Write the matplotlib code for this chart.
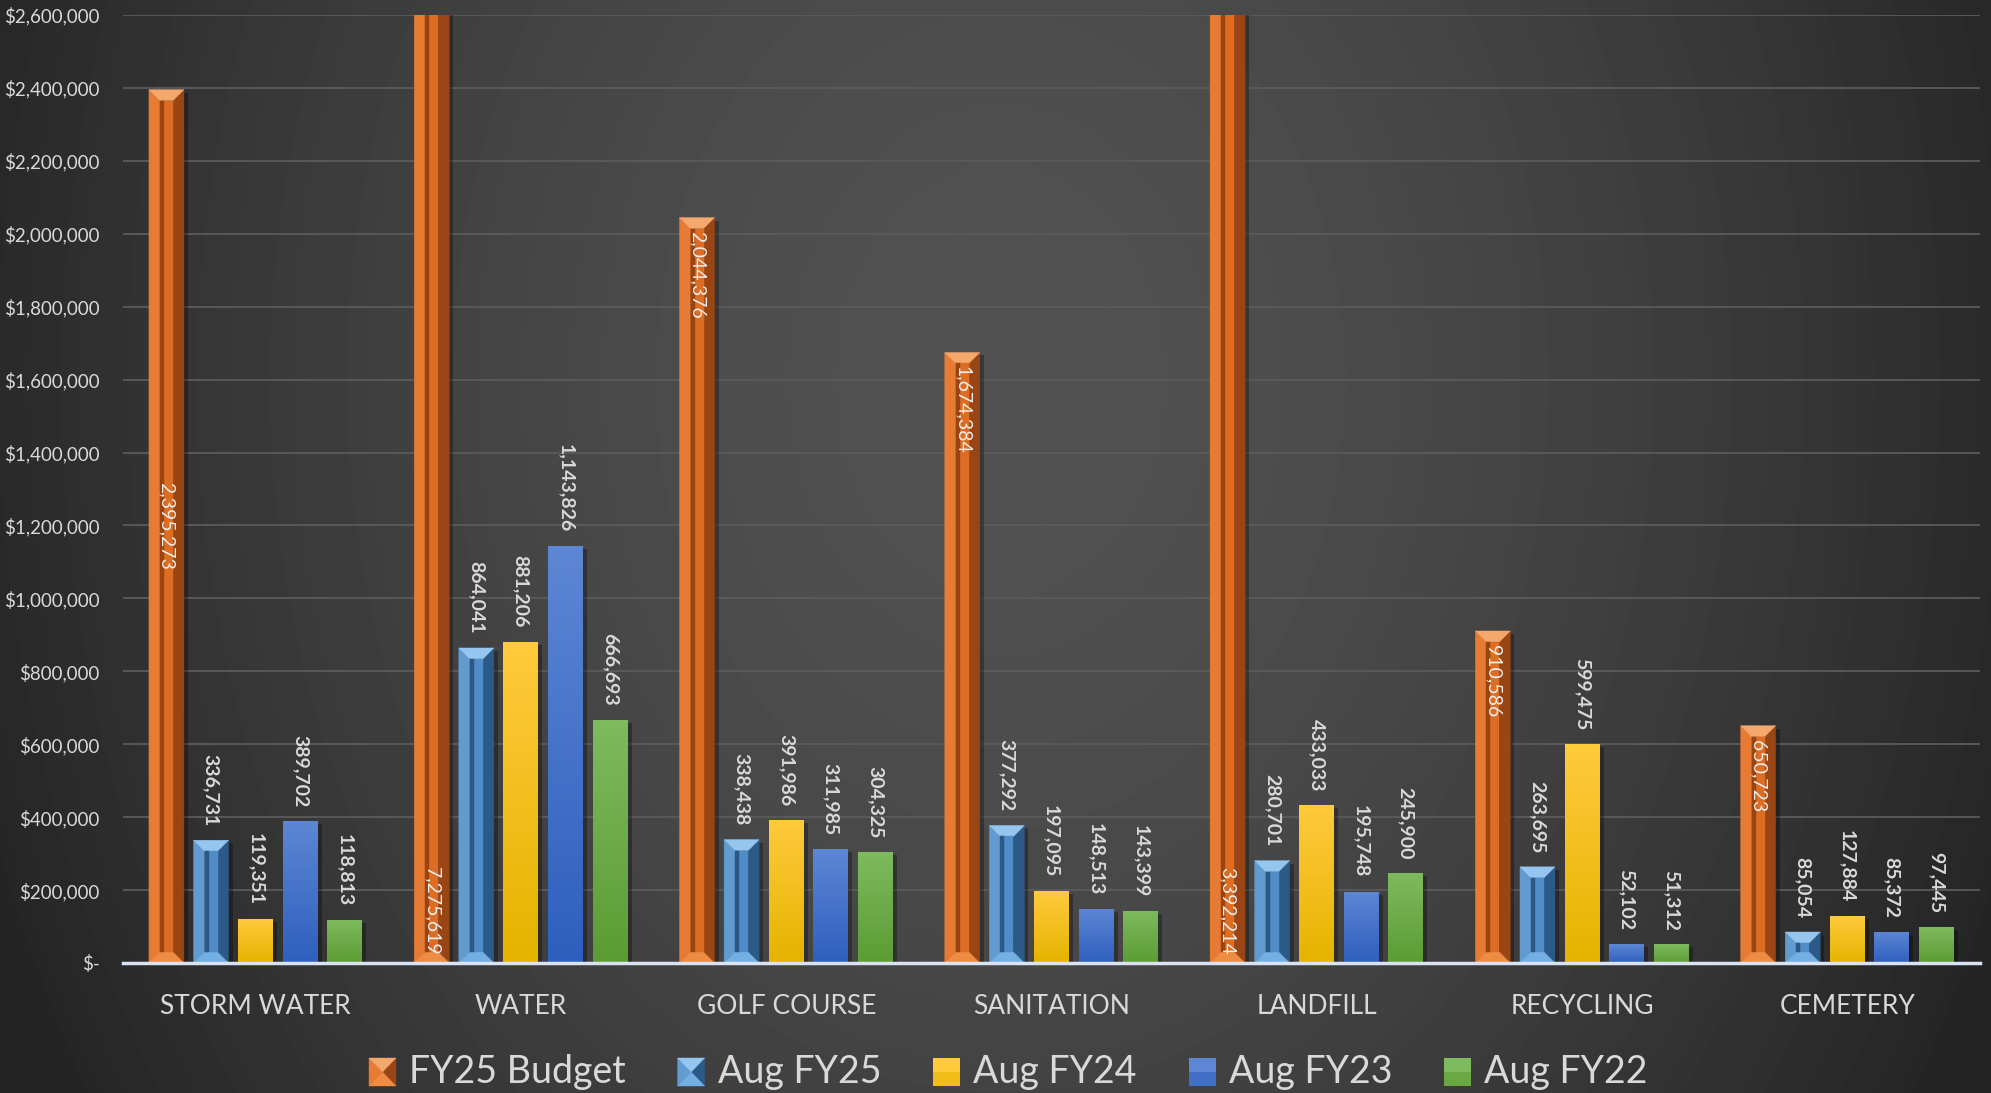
import numpy as np
import matplotlib
matplotlib.use("Agg")
import matplotlib.pyplot as plt
from matplotlib.patches import Polygon, Rectangle
from matplotlib.colors import LinearSegmentedColormap
from matplotlib.ticker import FuncFormatter

plt.rcParams["font.family"] = ["Lato", "DejaVu Sans"]

categories = ["STORM WATER", "WATER", "GOLF COURSE", "SANITATION",
              "LANDFILL", "RECYCLING", "CEMETERY"]
series_names = ["FY25 Budget", "Aug FY25", "Aug FY24", "Aug FY23", "Aug FY22"]

fy25_budget = [2395273, 7275619, 2044376, 1674384, 3392214, 910586, 650723]
aug_fy25 = [336731, 864041, 338438, 377292, 280701, 263695, 85054]
aug_fy24 = [119351, 881206, 391986, 197095, 433033, 599475, 127884]
aug_fy23 = [389702, 1143826, 311985, 148513, 195748, 52102, 85372]
aug_fy22 = [118813, 666693, 304325, 143399, 245900, 51312, 97445]

ytick_vals = np.arange(0, 2600001, 200000)

# where the budget label sits inside its bar
budget_label_at = ["middle", "base", "end", "end", "base", "end", "end"]

W, H = 1991, 1093
YMAX = 2600000
TXT = "#d9d9d9"

BEVEL_ORANGE = dict(top="#f5a86c", bottom="#ef8c44", left="#e87b34",
                    right="#9a4514", inner="#dd6d23", stripe="#9a4511")
BEVEL_BLUE = dict(top="#95c6ef", bottom="#74afe3", left="#629bd0",
                  right="#2c5a88", inner="#508cc7", stripe="#2d5884")
GRADS = {"Aug FY24": ("#e6b300", "#ffca3c"),
         "Aug FY23": ("#2f5fbe", "#5d87d4"),
         "Aug FY22": ("#5b9c33", "#7eba5e")}

fig = plt.figure(figsize=(W / 100, H / 100), dpi=100)

# soft radial backdrop
bgax = fig.add_axes([0, 0, 1, 1], zorder=-10)
yy, xx = np.mgrid[0:H, 0:W]
r = np.sqrt(((xx - 1000) / 1000) ** 2 + ((yy - 380) / 1300) ** 2)
shade = np.clip(82 - 40 * r ** 1.6, 36, 90) / 255
bgax.imshow(shade, cmap="gray", vmin=0, vmax=1, aspect="auto",
            extent=[0, 1, 0, 1], interpolation="bilinear")
bgax.axis("off")

ax_l, ax_r, ax_top, ax_bot = 123, 1980, 15, 963
ax = fig.add_axes([ax_l / W, (H - ax_bot) / H, (ax_r - ax_l) / W, (ax_bot - ax_top) / H])
ax.set_facecolor("none")

n = len(categories)
sx = n / (ax_r - ax_l)          # x data units per pixel
sy = YMAX / (ax_bot - ax_top)   # y data units per pixel
width = 35 * sx
step = 44.6 * sx


def bevel(target, x0, x1, y0, y1, dx, dy, c, transform, stripe_w=0):
    dx = min(dx, (x1 - x0) / 2)
    dy = min(dy, (y1 - y0) / 2)
    xi0, xi1, yi0, yi1 = x0 + dx, x1 - dx, y0 + dy, y1 - dy
    polys = [
        ([(x0, y0), (x0, y1), (xi0, yi1), (xi0, yi0)], c["left"]),
        ([(x1, y0), (x1, y1), (xi1, yi1), (xi1, yi0)], c["right"]),
        ([(x0, y1), (x1, y1), (xi1, yi1), (xi0, yi1)], c["top"]),
        ([(x0, y0), (x1, y0), (xi1, yi0), (xi0, yi0)], c["bottom"]),
        ([(xi0, yi0), (xi1, yi0), (xi1, yi1), (xi0, yi1)], c["inner"]),
    ]
    if stripe_w:
        polys.append(([(xi0, yi0), (xi0 + stripe_w, yi0),
                       (xi0 + stripe_w, yi1), (xi0, yi1)], c["stripe"]))
    for pts, col in polys:
        p = Polygon(pts, closed=True, facecolor=col, edgecolor=col, lw=0.3,
                    transform=transform, zorder=3)
        if target is fig:
            fig.add_artist(p)
        else:
            target.add_patch(p)


label_kw = dict(rotation=270, ha="center", fontsize=14, fontweight="bold",
                zorder=5, textcoords="offset points")

series = [fy25_budget, aug_fy25, aug_fy24, aug_fy23, aug_fy22]
for i, (name, vals) in enumerate(zip(series_names, series)):
    xs = np.arange(n) + (i - 2) * step
    bars = ax.bar(xs, vals, width, zorder=3, linewidth=0)
    for p, v in zip(bars.patches, vals):
        x0, w = p.get_x(), p.get_width()
        # drop shadow
        ax.add_patch(Rectangle((x0 + 4 * sx, 0), w, v - 3 * sy, facecolor="black",
                               alpha=0.3, lw=0, zorder=2))
        if i < 2:
            p.set_visible(False)
            bevel(ax, x0, x0 + w, 0, v, 11 * sx, 11 * sy,
                  BEVEL_ORANGE if i == 0 else BEVEL_BLUE, ax.transData,
                  stripe_w=4 * sx)
        else:
            lo, hi = GRADS[name]
            cmap = LinearSegmentedColormap.from_list(name, [lo, hi])
            p.set_facecolor("none")
            im = ax.imshow(np.linspace(0, 1, 64)[:, None], cmap=cmap, origin="lower",
                           extent=[x0, x0 + w, 0, v], aspect="auto", zorder=3,
                           interpolation="bilinear")
            im.set_clip_path(p)

    for j, (x, v) in enumerate(zip(xs, vals)):
        if i == 0:
            at = budget_label_at[j]
            kw = dict(label_kw, fontweight="normal", color="#eeeeee")
            if at == "base":
                ax.annotate(f"{v:,}", (x, 0), xytext=(0, 6), va="bottom", **kw)
            elif at == "middle":
                ax.annotate(f"{v:,}", (x, v / 2), xytext=(0, 0), va="center", **kw)
            else:
                ax.annotate(f"{v:,}", (x, v), xytext=(0, -10), va="top", **kw)
        else:
            ax.annotate(f"{v:,}", (x, v), xytext=(0, 10), va="bottom",
                        color=TXT, **label_kw)

ax.set_xlim(-0.5, n - 0.5)
ax.set_ylim(0, YMAX)
ax.set_yticks(ytick_vals)
ax.yaxis.set_major_formatter(FuncFormatter(lambda v, _: "$-" if v == 0 else f"${v:,.0f}"))
ax.yaxis.grid(True, color="#5b5b5b", lw=1.3)
ax.set_axisbelow(True)
ax.set_xticks(range(n), categories)
ax.tick_params(axis="y", length=0, pad=17, labelsize=13.5, labelcolor=TXT)
ax.tick_params(axis="x", length=0, pad=22, labelsize=19, labelcolor=TXT)
for s in ax.spines.values():
    s.set_visible(False)
ax.axhline(0, color="#dae3f3", lw=2.5, zorder=6, clip_on=False)

# legend row
renderer = fig.canvas.get_renderer()
lx, ly, msz = 369, 1072, 27
for i, name in enumerate(series_names):
    mx0, mx1 = lx / W, (lx + msz) / W
    my0, my1 = (H - ly - 14) / H, (H - ly + 14) / H
    if i < 2:
        bevel(fig, mx0, mx1, my0, my1, (msz / 2) / W, 14 / H,
              BEVEL_ORANGE if i == 0 else BEVEL_BLUE, fig.transFigure)
    else:
        lo, hi = GRADS[name]
        fig.add_artist(Rectangle((mx0, my0), mx1 - mx0, my1 - my0, facecolor=hi,
                                 lw=0, transform=fig.transFigure))
        fig.add_artist(Rectangle((mx0, my0), mx1 - mx0, (my1 - my0) / 2, facecolor=lo,
                                 lw=0, alpha=0.6, transform=fig.transFigure))
    t = fig.text((lx + msz + 13) / W, (H - ly) / H, name, ha="left", va="center",
                 fontsize=27, color=TXT)
    lx = lx + msz + 13 + t.get_window_extent(renderer).width + 52

fig.savefig("out.png", dpi=100)
